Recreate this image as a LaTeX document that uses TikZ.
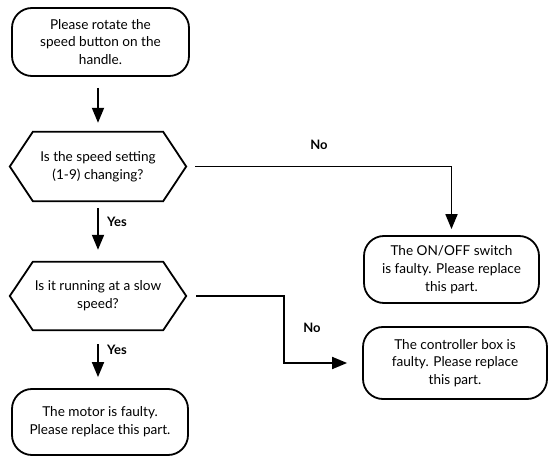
\documentclass[tikz,border=0pt]{standalone}
\usepackage{fontspec}
\setmainfont{Lato}
\usetikzlibrary{arrows.meta}
\begin{document}
\begin{tikzpicture}[x=1pt,y=-1pt,
  every node/.style={font=\fontsize{13.6}{17.8}\selectfont, align=center, inner sep=0pt},
  rbox/.style={draw, line width=1.8pt, rounded corners=20pt},
  hexnode/.style={draw=none},
  hexline/.style={draw, line width=1.8pt, line join=miter},
  arr/.style={line width=1.8pt, -{Triangle[length=15pt,width=12pt]}},
  lbl/.style={font=\fontsize{13}{15}\selectfont\bfseries}
]
\useasboundingbox (0,0) rectangle (549,457);

\node[rbox, minimum width=177pt, minimum height=68pt] (b1) at (100.5,42) {Please rotate the\\speed button on the\\handle.};
\node[hexnode, minimum width=176pt, minimum height=69pt] (h1) at (98,166.5) {Is the speed setting\\(1-9) changing?};
\node[hexnode, minimum width=176pt, minimum height=68pt] (h2) at (98,296) {Is it running at a slow\\speed?};
\node[rbox, minimum width=176pt, minimum height=66pt] (b4) at (100,422) {The motor is faulty.\\Please replace this part.};
\node[rbox, minimum width=175pt, minimum height=67pt] (b2) at (451.5,269.5) {The ON/OFF switch\\is faulty. Please replace\\this part.};
\node[rbox, minimum width=184pt, minimum height=72pt] (b3) at (455,363) {The controller box is\\faulty. Please replace\\this part.};

\foreach \n in {h1,h2}
  \draw[hexline] (\n.west) -- ([xshift=23pt]\n.north west) -- ([xshift=-23pt]\n.north east)
    -- (\n.east) -- ([xshift=-23pt]\n.south east) -- ([xshift=23pt]\n.south west) -- cycle;

\coordinate (c2) at (284,0);

\draw[arr, shorten <=11pt, shorten >=9pt] (b1.south -| h1.north) -- (h1.north);
\draw[arr, shorten <=7pt, shorten >=12pt] (h1.south) -- (h2.north);
\draw[arr, shorten <=14pt, shorten >=11pt] (h2.south) -- (b4.north -| h2.south);
\draw[arr, shorten <=9pt, shorten >=6pt] (h1.east) -- (b2.north |- h1.east) -- (b2.north);
\draw[arr, shorten <=10pt, shorten >=15pt] (h2.east) -- (c2 |- h2.east) -- (c2 |- b3.west) -- (b3.west);

\node[lbl] (y1) at (117,222) {Yes};
\node[lbl] (y2) at (117,350) {Yes};
\node[lbl] (n1) at (319,145) {No};
\node[lbl] (n2) at (312,328) {No};
\end{tikzpicture}
\end{document}
